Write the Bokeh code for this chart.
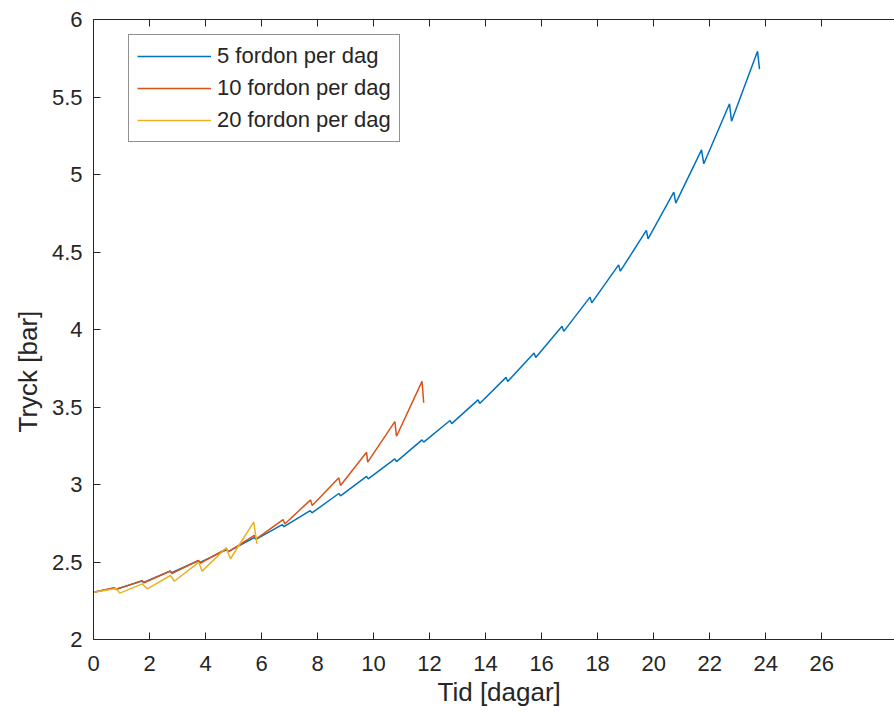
from bokeh.plotting import figure
from bokeh.models import Range1d, LinearAxis, FixedTicker, Legend, LegendItem, Title
from bokeh.embed import file_html
from bokeh.resources import INLINE

# ---- data ----
series_names = ["5 fordon per dag", "10 fordon per dag", "20 fordon per dag"]

blue_t = [0.00, 0.75, 0.80, 1.73, 1.79, 2.73, 2.79, 3.74, 3.80, 4.75, 4.81,
          5.74, 5.80, 6.74, 6.80, 7.74, 7.80, 8.76, 8.82, 9.75, 9.81,
          10.76, 10.82, 11.73, 11.79, 12.73, 12.79, 13.73, 13.79, 14.73, 14.79,
          15.73, 15.79, 16.73, 16.79, 17.73, 17.79, 18.75, 18.81, 19.74, 19.80,
          20.72, 20.79, 21.71, 21.79, 22.71, 22.78, 23.71, 23.78]
blue_p = [2.305, 2.332, 2.324, 2.377, 2.368, 2.441, 2.431, 2.508, 2.498, 2.578, 2.567,
          2.658, 2.646, 2.741, 2.728, 2.831, 2.817, 2.942, 2.927, 3.052, 3.036,
          3.165, 3.148, 3.288, 3.273, 3.413, 3.393, 3.546, 3.523, 3.691, 3.665,
          3.849, 3.820, 4.021, 3.988, 4.209, 4.172, 4.417, 4.376, 4.639, 4.585,
          4.886, 4.815, 5.159, 5.069, 5.456, 5.344, 5.795, 5.680]

red_t = [0.00, 0.74, 0.80, 1.74, 1.80, 2.74, 2.80, 3.75, 3.81, 4.75, 4.81,
         5.74, 5.80, 6.77, 6.83, 7.75, 7.81, 8.76, 8.82, 9.75, 9.79,
         10.76, 10.82, 11.73, 11.79]
red_p = [2.305, 2.334, 2.322, 2.380, 2.366, 2.442, 2.426, 2.510, 2.492, 2.586, 2.565,
         2.672, 2.648, 2.774, 2.745, 2.901, 2.865, 3.043, 2.994, 3.208, 3.144,
         3.406, 3.311, 3.665, 3.527]

yellow_t = [0.00, 0.81, 0.94, 1.74, 1.92, 2.75, 2.89, 3.76, 3.88, 4.74, 4.89, 5.72, 5.84]
yellow_p = [2.305, 2.329, 2.299, 2.359, 2.327, 2.413, 2.376, 2.499, 2.441, 2.592, 2.521, 2.757, 2.617]

x_ticks = [0, 2, 4, 6, 8, 10, 12, 14, 16, 18, 20, 22, 24, 26]
y_ticks = [2, 2.5, 3, 3.5, 4, 4.5, 5, 5.5, 6]
y_tick_labels = ["2", "2.5", "3", "3.5", "4", "4.5", "5", "5.5", "6"]

x_label = "Tid [dagar]"
y_label = "Tryck [bar]"

# ---- styling ----
FONT = "Liberation Sans"
DARK = "#262626"
colors = ["#0072BD", "#D95319", "#EDB120"]

p = figure(width=894, height=715, output_backend="svg", toolbar_location=None,
           x_range=Range1d(0, 28.6), y_range=Range1d(2, 6),
           x_axis_type=None, y_axis_type=None, title=None,
           min_border_left=93, min_border_right=0, min_border_top=19, min_border_bottom=76)
p.outline_line_color = None
p.xgrid.visible = False
p.ygrid.visible = False
p.background_fill_color = "white"
p.border_fill_color = "white"

def style_axis(ax, standoff, show_labels=True):
    ax.major_tick_in = 7
    ax.major_tick_out = 0
    ax.minor_tick_in = 0
    ax.minor_tick_out = 0
    ax.axis_line_color = DARK
    ax.axis_line_width = 1
    ax.major_tick_line_color = DARK
    ax.major_label_text_color = DARK if show_labels else None
    ax.major_label_text_font = FONT
    ax.major_label_text_font_size = "22px" if show_labels else "0px"
    ax.major_label_standoff = standoff

xaxis = LinearAxis(ticker=FixedTicker(ticks=x_ticks))
style_axis(xaxis, 16)
p.add_layout(xaxis, "below")

xtop = LinearAxis(ticker=FixedTicker(ticks=x_ticks))
style_axis(xtop, 0, show_labels=False)
p.add_layout(xtop, "above")

yaxis = LinearAxis(ticker=FixedTicker(ticks=y_ticks),
                   major_label_overrides={v: s for v, s in zip(y_ticks, y_tick_labels)})
style_axis(yaxis, 11)
p.add_layout(yaxis, "left")

r1 = p.line(blue_t, blue_p, line_color=colors[0], line_width=1.5)
r2 = p.line(red_t, red_p, line_color=colors[1], line_width=1.5)
r3 = p.line(yellow_t, yellow_p, line_color=colors[2], line_width=1.5)

legend = Legend(items=[LegendItem(label=series_names[0], renderers=[r1]),
                       LegendItem(label=series_names[1], renderers=[r2]),
                       LegendItem(label=series_names[2], renderers=[r3])],
                location=(35, 497))
legend.label_text_font = FONT
legend.label_text_font_size = "22px"
legend.label_text_color = DARK
legend.glyph_width = 74
legend.glyph_height = 24
legend.label_height = 24
legend.label_standoff = 6
legend.spacing = 6
legend.padding = 8
legend.margin = 0
legend.border_line_color = DARK
legend.border_line_width = 1
legend.background_fill_color = "white"
legend.background_fill_alpha = 1.0
p.add_layout(legend)

# axis titles as side titles (allow an offset along the axis like the reference)
ytitle = Title(text=y_label, align="left", offset=207, standoff=10,
               vertical_align="middle",
               text_font=FONT, text_font_size="26px", text_font_style="normal",
               text_color=DARK)
p.add_layout(ytitle, "left")
xtitle = Title(text=x_label, align="left", offset=344, standoff=4,
               vertical_align="middle",
               text_font=FONT, text_font_size="26px", text_font_style="normal",
               text_color=DARK)
p.add_layout(xtitle, "below")

open("out.html", "w").write(file_html(p, INLINE))
